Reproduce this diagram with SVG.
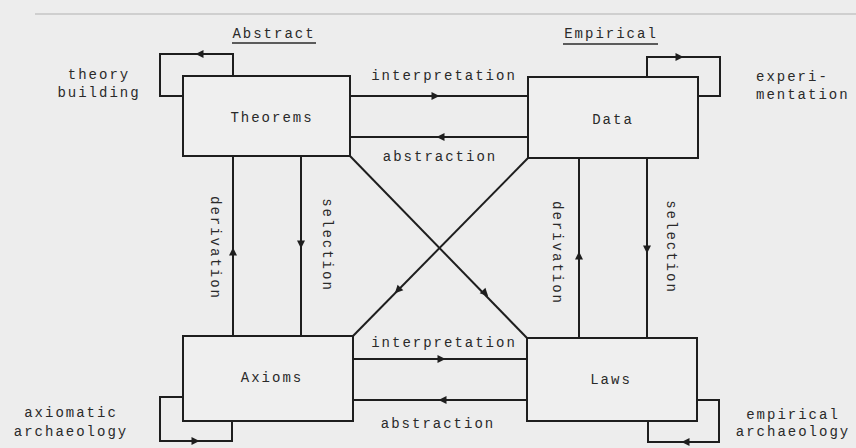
<svg xmlns="http://www.w3.org/2000/svg" width="856" height="448" viewBox="0 0 856 448">
<style>
.bg{fill:#ededed}
.box{fill:#efefef;stroke:#1e1e1e;stroke-width:2}
.ln{fill:none;stroke:#1e1e1e;stroke-width:2}
.t{font-family:"Liberation Mono","DejaVu Sans Mono",monospace;font-size:14px;letter-spacing:2px;fill:#2a2a2a;text-anchor:middle;dominant-baseline:central}
.tl{text-anchor:start}
.ah{fill:#1e1e1e}
</style>
<defs>
<path id="ah" d="M4.5,0 L-3.5,-4 L-3.5,4 Z"/>
</defs>
<rect class="bg" x="0" y="0" width="856" height="448"/>
<line x1="35" y1="14" x2="856" y2="14" stroke="#cfcfcf" stroke-width="2"/>

<g id="connectors">
  <!-- self loops -->
  <polyline class="ln" points="233,76 233,54 160,54 160,96 183,96"/>
  <polyline class="ln" points="647,77 647,57 720,57 720,96 698,96"/>
  <polyline class="ln" points="183,397 160,397 160,441 232,441 232,421"/>
  <polyline class="ln" points="697,400 719,400 719,442 648,442 648,421"/>
  <!-- horizontal -->
  <line class="ln" x1="350" y1="96" x2="528" y2="96"/>
  <line class="ln" x1="350" y1="137" x2="528" y2="137"/>
  <line class="ln" x1="353" y1="359" x2="527" y2="359"/>
  <line class="ln" x1="353" y1="400" x2="527" y2="400"/>
  <!-- vertical -->
  <line class="ln" x1="233" y1="156" x2="233" y2="336"/>
  <line class="ln" x1="301" y1="156" x2="301" y2="336"/>
  <line class="ln" x1="579" y1="158" x2="579" y2="338"/>
  <line class="ln" x1="647" y1="158" x2="647" y2="338"/>
  <!-- diagonals -->
  <line class="ln" x1="350" y1="156" x2="527" y2="338"/>
  <line class="ln" x1="528" y1="158" x2="353" y2="336"/>
  <!-- arrowheads -->
  <g class="ah">
    <use href="#ah" transform="translate(200,54) rotate(180)"/>
    <use href="#ah" transform="translate(679,57)"/>
    <use href="#ah" transform="translate(195,441)"/>
    <use href="#ah" transform="translate(686,442) rotate(180)"/>
    <use href="#ah" transform="translate(435,96)"/>
    <use href="#ah" transform="translate(441,137) rotate(180)"/>
    <use href="#ah" transform="translate(441,359)"/>
    <use href="#ah" transform="translate(443,400) rotate(180)"/>
    <use href="#ah" transform="translate(233,252) rotate(-90)"/>
    <use href="#ah" transform="translate(301,244) rotate(90)"/>
    <use href="#ah" transform="translate(579,256) rotate(-90)"/>
    <use href="#ah" transform="translate(647,249) rotate(90)"/>
    <use href="#ah" transform="translate(485,293) rotate(45.8)"/>
    <use href="#ah" transform="translate(398,290) rotate(134.5)"/>
  </g>
  <!-- connector labels -->
  <text class="t" x="444" y="76">interpretation</text>
  <text class="t" x="440" y="157">abstraction</text>
  <text class="t" x="444" y="343">interpretation</text>
  <text class="t" x="438" y="424">abstraction</text>
  <text class="t" transform="translate(215,248) rotate(90)">derivation</text>
  <text class="t" transform="translate(327,245) rotate(90)">selection</text>
  <text class="t" transform="translate(557,253) rotate(90)">derivation</text>
  <text class="t" transform="translate(671,247) rotate(90)">selection</text>
  <text class="t" x="99" y="75">theory</text>
  <text class="t" x="99" y="93">building</text>
  <text class="t tl" x="756" y="77">experi-</text>
  <text class="t tl" x="756" y="95">mentation</text>
  <text class="t" x="71" y="413">axiomatic</text>
  <text class="t" x="71" y="432">archaeology</text>
  <text class="t" x="793" y="415">empirical</text>
  <text class="t" x="793" y="432">archaeology</text>
</g>

<g id="header-abstract">
  <text class="t" x="274" y="34">Abstract</text>
  <line x1="232" y1="43" x2="316" y2="43" stroke="#2a2a2a" stroke-width="1.5"/>
</g>
<g id="header-empirical">
  <text class="t" x="611" y="34">Empirical</text>
  <line x1="563" y1="44" x2="658" y2="44" stroke="#2a2a2a" stroke-width="1.5"/>
</g>

<g id="theorems">
  <rect class="box" x="183" y="76" width="167" height="80"/>
  <text class="t" x="272" y="118">Theorems</text>
</g>
<g id="data">
  <rect class="box" x="528" y="77" width="170" height="81"/>
  <text class="t" x="613" y="120">Data</text>
</g>
<g id="axioms">
  <rect class="box" x="183" y="336" width="170" height="85"/>
  <text class="t" x="272" y="378">Axioms</text>
</g>
<g id="laws">
  <rect class="box" x="527" y="338" width="170" height="83"/>
  <text class="t" x="611" y="380">Laws</text>
</g>
</svg>
